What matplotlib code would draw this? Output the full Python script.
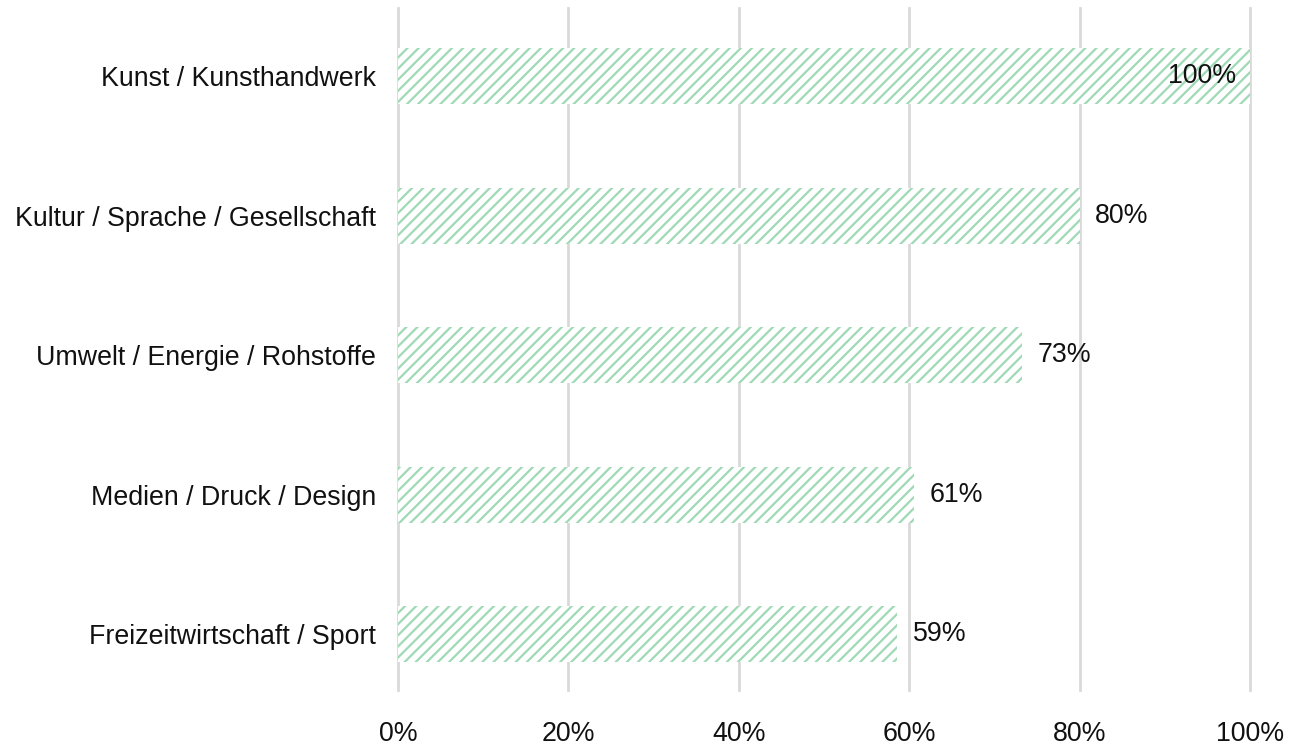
import matplotlib.pyplot as plt
from matplotlib.ticker import PercentFormatter

# Data
categories = [
    "Kunst / Kunsthandwerk",
    "Kultur / Sprache / Gesellschaft",
    "Umwelt / Energie / Rohstoffe",
    "Medien / Druck / Design",
    "Freizeitwirtschaft / Sport",
]
values = [100.0, 80.0, 73.3, 60.6, 58.6]
x_ticks = [0, 20, 40, 60, 80, 100]

# Colors
hatch_grn = "#9fd9b5"
grid_gry = "#d9d9d9"
txt_blk = "#111111"

fs = 19.3

plt.rcParams.update(
    {
        "font.family": ["Liberation Sans", "DejaVu Sans"],
        "font.size": fs,
        "text.color": txt_blk,
        "hatch.linewidth": 1.6,
    }
)

fig = plt.figure(figsize=(12.89, 7.49), dpi=100)
ax = fig.add_axes([0.3088, 0.0788, 0.6609, 0.9105])

pos = list(range(len(categories)))
ax.barh(
    pos,
    values,
    height=0.4,
    color="white",
    edgecolor=hatch_grn,
    hatch="///",
    linewidth=0,
    zorder=2,
)

# Data labels
for p, v in zip(pos, values):
    label = f"{round(v):d}%"
    if v >= 100:
        ax.annotate(label, (v, p), xytext=(-10, 0), textcoords="offset points",
                    ha="right", va="center", fontsize=fs, zorder=3)
    else:
        ax.annotate(label, (v, p), xytext=(11, 0), textcoords="offset points",
                    ha="left", va="center", fontsize=fs, zorder=3)

ax.set_xlim(0, 100)
ax.set_ylim(4.40, -0.49)
ax.set_xticks(x_ticks)
ax.xaxis.set_major_formatter(PercentFormatter(decimals=0))
ax.set_yticks(pos)
ax.set_yticklabels(categories)

ax.grid(axis="x", color=grid_gry, linewidth=2, zorder=0)
for line in ax.get_xgridlines():
    line.set_clip_on(False)
ax.set_axisbelow(True)
for spine in ax.spines.values():
    spine.set_visible(False)
ax.tick_params(axis="both", length=0, colors=txt_blk, labelsize=fs)
ax.tick_params(axis="x", pad=22)
ax.tick_params(axis="y", pad=16)

fig.savefig("out.png", dpi=100)
